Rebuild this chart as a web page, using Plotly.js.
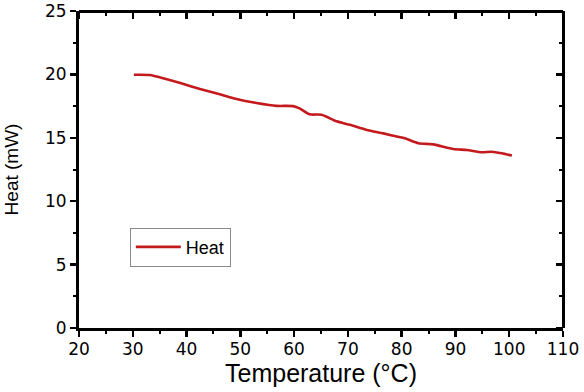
<!DOCTYPE html>
<html>
<head>
<meta charset="utf-8">
<script src="https://cdn.plot.ly/plotly-3.0.1.min.js"></script>
<style>html,body{margin:0;padding:0;background:#fff;}#chart{width:584px;height:392px;}</style>
</head>
<body>
<div id="chart"></div>
<script>
const temperature = [30.2, 33.2, 36, 39, 42.5, 46, 49.9, 53, 56.7, 59.8, 61.1, 62.9, 65.1, 67.9, 70.4, 73.5, 76.6, 79.1, 80.6, 83.1, 85.9, 89.6, 92.1, 94.9, 96.7, 98.6, 100.5];
const heat =        [19.97, 19.95, 19.65, 19.3, 18.85, 18.45, 18.0, 17.75, 17.52, 17.5, 17.3, 16.85, 16.82, 16.3, 16.02, 15.62, 15.35, 15.1, 14.96, 14.57, 14.48, 14.12, 14.04, 13.86, 13.9, 13.78, 13.6];
const seriesName = 'Heat';
const xTitle = 'Temperature (°C)';
const yTitle = 'Heat (mW)';
const xRange = [20, 110];
const yRange = [0, 25];

const font = 'Liberation Sans, Arial, sans-serif';
const tickFont = 'DejaVu Sans';

const base = {
  showgrid: false, zeroline: false, showline: true, linecolor: '#000', linewidth: 3,
  tickcolor: '#000', tickwidth: 2.5, ticklen: 6,
  tickfont: {family: tickFont, size: 17, color: '#000'}
};

const data = [{
  x: temperature, y: heat, name: seriesName, type: 'scatter', mode: 'lines',
  line: {color: '#c41a1e', width: 2.6, shape: 'spline', smoothing: 0.6}
}, {
  x: xRange, y: yRange, xaxis: 'x2', yaxis: 'y', mode: 'markers',
  marker: {opacity: 0, size: 1}, showlegend: false, hoverinfo: 'skip'
}, {
  x: xRange, y: yRange, xaxis: 'x', yaxis: 'y2', mode: 'markers',
  marker: {opacity: 0, size: 1}, showlegend: false, hoverinfo: 'skip'
}];

const layout = {
  width: 584, height: 392,
  margin: {l: 79, r: 21, t: 11, b: 64},
  paper_bgcolor: '#fff', plot_bgcolor: '#fff',
  showlegend: true,
  legend: {x: 0.105, y: 0.255, xanchor: 'left', yanchor: 'middle', bgcolor: '#fff',
    bordercolor: '#8a8a8a', borderwidth: 1, itemwidth: 45,
    font: {family: font, size: 18, color: '#000'}},
  xaxis: Object.assign({}, base, {
    ticks: 'outside', range: xRange, dtick: 10, tick0: 20, ticklabelstandoff: -2,
    minor: {dtick: 5, ticks: 'outside', ticklen: 3, tickwidth: 2, tickcolor: '#000'},
    title: {text: xTitle, font: {family: font, size: 25, color: '#000'}, standoff: 2}
  }),
  yaxis: Object.assign({}, base, {
    ticks: 'outside', range: yRange, dtick: 5, tick0: 0,
    minor: {dtick: 2.5, ticks: 'outside', ticklen: 3, tickwidth: 2, tickcolor: '#000'},
    title: {text: yTitle, font: {family: font, size: 19, color: '#000'}, standoff: 22}
  }),
  xaxis2: Object.assign({}, base, {
    overlaying: 'x', side: 'bottom', anchor: 'free', position: 1, range: xRange, dtick: 10, tick0: 20,
    ticks: 'outside', showticklabels: false,
    minor: {dtick: 5, ticks: 'outside', ticklen: 3, tickwidth: 2, tickcolor: '#000'}
  }),
  yaxis2: Object.assign({}, base, {
    overlaying: 'y', side: 'left', anchor: 'free', position: 1, range: yRange, dtick: 5, tick0: 0,
    ticks: 'outside', showticklabels: false,
    minor: {dtick: 2.5, ticks: 'outside', ticklen: 3, tickwidth: 2, tickcolor: '#000'}
  })
};

Plotly.newPlot('chart', data, layout, {displayModeBar: false, staticPlot: true});
</script>
</body>
</html>
